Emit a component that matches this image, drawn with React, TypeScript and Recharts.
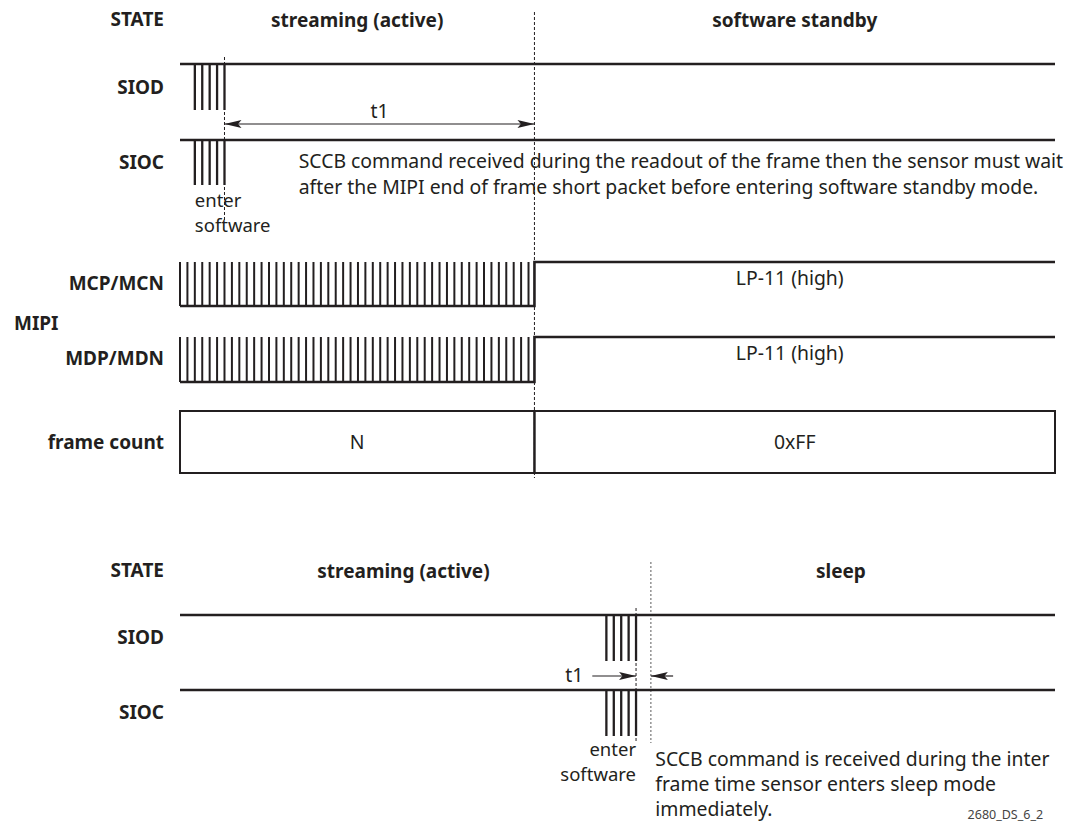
import React from 'react';
import { ComposedChart, Line, XAxis, YAxis, ReferenceLine, ReferenceArea, ReferenceDot, Label } from 'recharts';

// time axis in MIPI clock periods
const T_START = 0;
const T_END = 118;

// top diagram: streaming -> software standby
const topStates = ['streaming (active)', 'software standby'];
const topSccbPulses = [2, 3, 4, 5, 6];
const topEnterSoftware = 6;
const topFrameEnd = 47.8;
const mipiBurstPulses = [
  0, 1, 2, 3, 4, 5, 6, 7, 8, 9, 10, 11, 12, 13, 14, 15, 16, 17, 18, 19, 20, 21, 22, 23,
  24, 25, 26, 27, 28, 29, 30, 31, 32, 33, 34, 35, 36, 37, 38, 39, 40, 41, 42, 43, 44, 45, 46, 47,
];
const mipiLevels = [
  { t: 0, level: 0 },
  { t: 47.8, level: 1 },
  { t: 118, level: 1 },
];
const idleHigh = [
  { t: 0, level: 1 },
  { t: 118, level: 1 },
];
const frameCounts = ['N', '0xFF'];
const lpState = 'LP-11 (high)';

// bottom diagram: streaming -> sleep
const bottomStates = ['streaming (active)', 'sleep'];
const bottomSccbPulses = [57.5, 58.5, 59.5, 60.5, 61.5];
const bottomEnterSoftware = 61.5;
const bottomSleepStart = 63.5;

const INK = '#231f20';
const FONT = '"Noto Sans", sans-serif';
const boldText = { fontFamily: FONT, fontWeight: 700, fontSize: 19, fill: INK };
const plainText = { fontFamily: FONT, fontWeight: 400, fontSize: 19.4, fill: INK };
const smallText = { ...plainText, fontSize: 18.5 };

type Lane = { hi: number; lo: number };

const toPoints = (levels: { t: number; level: number }[], lane: Lane) =>
  levels.map((d) => ({ t: d.t, y: d.level ? lane.hi : lane.lo }));

// text drawn at a data point
const note = (lines: string[], anchor: 'start' | 'middle' | 'end', style: any, gap = 26) => (p: any) => (
  <text x={p.cx} y={p.cy} textAnchor={anchor} {...style}>
    {lines.map((s, i) => (
      <tspan key={i} x={p.cx} dy={i === 0 ? 0 : gap}>
        {s}
      </tspan>
    ))}
  </text>
);

const arrow = (atStart: boolean, atEnd: boolean) => (p: any) => {
  const { x1, y1, x2, y2 } = p;
  const dir = Math.sign(x2 - x1) || 1;
  const len = 17;
  const half = 4;
  const head = (x: number, d: number) =>
    `M${x},${y1} L${x - d * len},${y1 - half} L${x - d * len * 0.8},${y1} L${x - d * len},${y1 + half} Z`;
  return (
    <g>
      <line x1={x1} y1={y1} x2={x2} y2={y2} stroke={INK} strokeWidth={1.2} />
      {atEnd && <path d={head(x2, dir)} fill={INK} />}
      {atStart && <path d={head(x1, -dir)} fill={INK} />}
    </g>
  );
};

const LaneTick = (labels: Record<number, string>) => (props: any) => {
  const { x, y, payload } = props;
  const text = labels[payload.value];
  if (!text) return null;
  if (text === 'MIPI') {
    return (
      <text x={x - 150} y={y} dy={6} textAnchor="start" {...boldText}>
        {text}
      </text>
    );
  }
  return (
    <text x={x} y={y} dy={6} textAnchor="end" {...boldText}>
      {text}
    </text>
  );
};

function TopDiagram() {
  const SIOD: Lane = { hi: 64, lo: 110 };
  const SIOC: Lane = { hi: 140, lo: 185 };
  const MCP: Lane = { hi: 262, lo: 306 };
  const MDP: Lane = { hi: 337, lo: 382 };
  const labels: Record<number, string> = {
    20: 'STATE',
    88: 'SIOD',
    163: 'SIOC',
    284: 'MCP/MCN',
    324: 'MIPI',
    359: 'MDP/MDN',
    443: 'frame count',
  };
  return (
    <ComposedChart width={1082} height={490} margin={{ top: 0, right: 27, bottom: 0, left: 0 }}>
      <XAxis type="number" dataKey="t" domain={[T_START, T_END]} hide allowDataOverflow />
      <YAxis
        type="number"
        domain={[0, 490]}
        reversed
        width={180}
        axisLine={false}
        tickLine={false}
        tickSize={0}
        tickMargin={16}
        interval={0}
        ticks={Object.keys(labels).map(Number)}
        tick={LaneTick(labels)}
      />

      {/* state names */}
      <ReferenceArea x1={T_START} x2={topFrameEnd} y1={6} y2={34} fill="none" stroke="none" ifOverflow="visible">
        <Label value={topStates[0]} position="center" {...boldText} />
      </ReferenceArea>
      <ReferenceArea x1={topFrameEnd} x2={T_END} y1={6} y2={34} fill="none" stroke="none" ifOverflow="visible">
        <Label value={topStates[1]} position="center" {...boldText} />
      </ReferenceArea>

      {/* frame end marker */}
      <ReferenceLine
        segment={[{ x: topFrameEnd, y: 12 }, { x: topFrameEnd, y: 478 }]}
        stroke={INK}
        strokeWidth={1}
        strokeDasharray="3 2"
      />
      {/* enter software marker */}
      <ReferenceLine
        segment={[{ x: topEnterSoftware, y: 57 }, { x: topEnterSoftware, y: 222 }]}
        stroke={INK}
        strokeWidth={1}
        strokeDasharray="3 2"
      />

      {/* SCCB */}
      <Line data={toPoints(idleHigh, SIOD)} dataKey="y" type="stepAfter" dot={false} stroke={INK} strokeWidth={2.6} isAnimationActive={false} />
      <Line data={toPoints(idleHigh, SIOC)} dataKey="y" type="stepAfter" dot={false} stroke={INK} strokeWidth={2.6} isAnimationActive={false} />
      {topSccbPulses.map((t) => (
        <ReferenceLine key={'d' + t} segment={[{ x: t, y: SIOD.hi }, { x: t, y: SIOD.lo }]} stroke={INK} strokeWidth={2.3} />
      ))}
      {topSccbPulses.map((t) => (
        <ReferenceLine key={'c' + t} segment={[{ x: t, y: SIOC.hi }, { x: t, y: SIOC.lo }]} stroke={INK} strokeWidth={2.3} />
      ))}

      {/* t1 */}
      <ReferenceLine segment={[{ x: topEnterSoftware, y: 124 }, { x: topFrameEnd, y: 124 }]} shape={arrow(true, true)} />
      <ReferenceDot x={(topEnterSoftware + topFrameEnd) / 2} y={118} r={1} ifOverflow="visible" shape={note(['t1'], 'middle', plainText)} />

      <ReferenceDot
        x={16}
        y={168}
        r={1}
        ifOverflow="visible"
        shape={note(
          [
            'SCCB command received during the readout of the frame then the sensor must wait',
            'after the MIPI end of frame short packet before entering software standby mode.',
          ],
          'start',
          plainText
        )}
      />
      <ReferenceDot x={topSccbPulses[0]} y={207} r={1} ifOverflow="visible" shape={note(['enter', 'software'], 'start', smallText, 25)} />

      {/* MIPI lanes */}
      <Line data={toPoints(mipiLevels, MCP)} dataKey="y" type="stepAfter" dot={false} stroke={INK} strokeWidth={2.6} isAnimationActive={false} />
      <Line data={toPoints(mipiLevels, MDP)} dataKey="y" type="stepAfter" dot={false} stroke={INK} strokeWidth={2.6} isAnimationActive={false} />
      {mipiBurstPulses.map((t) => (
        <ReferenceLine key={'mc' + t} segment={[{ x: t, y: MCP.hi }, { x: t, y: MCP.lo }]} stroke={INK} strokeWidth={2} />
      ))}
      {mipiBurstPulses.map((t) => (
        <ReferenceLine key={'md' + t} segment={[{ x: t, y: MDP.hi }, { x: t, y: MDP.lo }]} stroke={INK} strokeWidth={2} />
      ))}
      <ReferenceArea x1={topFrameEnd} x2={T_END} y1={266} y2={290} fill="none" stroke="none">
        <Label value={lpState} position="center" dx={-5} {...plainText} />
      </ReferenceArea>
      <ReferenceArea x1={topFrameEnd} x2={T_END} y1={341} y2={365} fill="none" stroke="none">
        <Label value={lpState} position="center" dx={-5} {...plainText} />
      </ReferenceArea>

      {/* frame count */}
      <ReferenceArea x1={T_START} x2={topFrameEnd} y1={411} y2={473} fill="none" stroke={INK} strokeWidth={2}>
        <Label value={frameCounts[0]} position="center" {...plainText} />
      </ReferenceArea>
      <ReferenceArea x1={topFrameEnd} x2={T_END} y1={411} y2={473} fill="none" stroke={INK} strokeWidth={2}>
        <Label value={frameCounts[1]} position="center" {...plainText} />
      </ReferenceArea>
    </ComposedChart>
  );
}

function BottomDiagram() {
  const SIOD: Lane = { hi: 85, lo: 131 };
  const SIOC: Lane = { hi: 160, lo: 206 };
  const labels: Record<number, string> = {
    41: 'STATE',
    108: 'SIOD',
    183: 'SIOC',
  };
  return (
    <ComposedChart width={1082} height={295} margin={{ top: 0, right: 27, bottom: 0, left: 0 }}>
      <XAxis type="number" dataKey="t" domain={[T_START, T_END]} hide allowDataOverflow />
      <YAxis
        type="number"
        domain={[0, 295]}
        reversed
        width={180}
        axisLine={false}
        tickLine={false}
        tickSize={0}
        tickMargin={16}
        interval={0}
        ticks={Object.keys(labels).map(Number)}
        tick={LaneTick(labels)}
      />

      <ReferenceArea x1={T_START} x2={bottomSleepStart} y1={27} y2={55} fill="none" stroke="none">
        <Label value={bottomStates[0]} position="center" dx={-12} {...boldText} />
      </ReferenceArea>
      <ReferenceArea x1={bottomSleepStart} x2={T_END} y1={27} y2={55} fill="none" stroke="none">
        <Label value={bottomStates[1]} position="center" dx={-12} {...boldText} />
      </ReferenceArea>

      <ReferenceLine
        segment={[{ x: bottomSleepStart, y: 32 }, { x: bottomSleepStart, y: 213 }]}
        stroke="#777"
        strokeWidth={1.2}
        strokeDasharray="2 2"
      />
      <ReferenceLine
        segment={[{ x: bottomEnterSoftware, y: 78 }, { x: bottomEnterSoftware, y: 213 }]}
        stroke={INK}
        strokeWidth={1}
        strokeDasharray="3 2"
      />

      <Line data={toPoints(idleHigh, SIOD)} dataKey="y" type="stepAfter" dot={false} stroke={INK} strokeWidth={2.6} isAnimationActive={false} />
      <Line data={toPoints(idleHigh, SIOC)} dataKey="y" type="stepAfter" dot={false} stroke={INK} strokeWidth={2.6} isAnimationActive={false} />
      {bottomSccbPulses.map((t) => (
        <ReferenceLine key={'d' + t} segment={[{ x: t, y: SIOD.hi }, { x: t, y: SIOD.lo }]} stroke={INK} strokeWidth={2.3} />
      ))}
      {bottomSccbPulses.map((t) => (
        <ReferenceLine key={'c' + t} segment={[{ x: t, y: SIOC.hi }, { x: t, y: SIOC.lo }]} stroke={INK} strokeWidth={2.3} />
      ))}

      {/* t1 */}
      <ReferenceLine segment={[{ x: 55.6, y: 146 }, { x: bottomEnterSoftware, y: 146 }]} shape={arrow(false, true)} />
      <ReferenceLine segment={[{ x: 66.5, y: 146 }, { x: bottomSleepStart, y: 146 }]} shape={arrow(false, true)} />
      <ReferenceDot x={54.4} y={152} r={1} ifOverflow="visible" shape={note(['t1'], 'end', plainText)} />

      <ReferenceDot x={bottomEnterSoftware} y={226} r={1} ifOverflow="visible" shape={note(['enter', 'software'], 'end', smallText, 25)} />
      <ReferenceDot
        x={bottomSleepStart + 0.6}
        y={236}
        r={1}
        ifOverflow="visible"
        shape={note(
          ['SCCB command is received during the inter', 'frame time sensor enters sleep mode', 'immediately.'],
          'start',
          plainText,
          25
        )}
      />
      <ReferenceDot
        x={116.4}
        y={289}
        r={1}
        ifOverflow="visible"
        shape={note(['2680_DS_6_2'], 'end', { ...plainText, fontSize: 12.5, fill: '#444' })}
      />
    </ComposedChart>
  );
}

export default function App() {
  return (
    <div style={{ position: 'absolute', left: 0, top: 0, width: 1082, height: 825, background: '#fff' }}>
      <div style={{ position: 'absolute', left: 0, top: 0 }}>
        <TopDiagram />
      </div>
      <div style={{ position: 'absolute', left: 0, top: 530 }}>
        <BottomDiagram />
      </div>
    </div>
  );
}
